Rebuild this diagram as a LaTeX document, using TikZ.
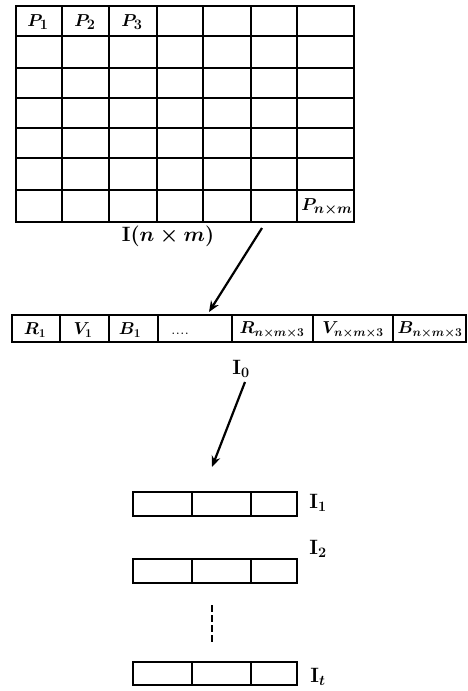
\documentclass[tikz,border=0pt]{standalone}
\usepackage{amsmath}
\usepackage{amssymb}
\usetikzlibrary{arrows.meta}

\begin{document}
\begin{tikzpicture}[
  x=1pt, y=-1pt,
  box/.style={draw,line width=1.1pt},
  cellmark/.style={inner sep=0pt,font=\fontsize{19}{22}\selectfont\boldmath},
  rowmark/.style={inner sep=0pt,font=\fontsize{18}{21}\selectfont\boldmath},
  imglabel/.style={inner sep=0pt,font=\fontsize{22}{26}\selectfont\bfseries\boldmath},
  flow/.style={line width=2.2pt,-{Stealth[length=11pt,width=9pt]}}
]
  \useasboundingbox (0,0) rectangle (467,691);
  % image grid I(n x m)
  \draw[box] (16,6) rectangle (354,222);
  \draw[box] (62,6) -- (62,222);
  \draw[box] (109,6) -- (109,222);
  \draw[box] (157,6) -- (157,222);
  \draw[box] (203,6) -- (203,222);
  \draw[box] (251,6) -- (251,222);
  \draw[box] (297,6) -- (297,222);
  \draw[box] (16,36) -- (354,36);
  \draw[box] (16,68) -- (354,68);
  \draw[box] (16,98) -- (354,98);
  \draw[box] (16,128) -- (354,128);
  \draw[box] (16,158) -- (354,158);
  \draw[box] (16,190) -- (354,190);
  \node[cellmark] (p1) at (38,22) {$P_1$};
  \node[cellmark] (p2) at (85,22) {$P_2$};
  \node[cellmark] (p3) at (132,22) {$P_3$};
  \node[cellmark] (pnm) at (327,207) {$P_{n\times m}$};
  \node[imglabel] (imat) at (168,236) {$\mathbf{I}(n\times m)$};
  % flattened vector I0
  \draw[box] (12,315) rectangle (466,342);
  \draw[box] (60,315) -- (60,342);
  \draw[box] (109,315) -- (109,342);
  \draw[box] (158,315) -- (158,342);
  \draw[box] (232,315) -- (232,342);
  \draw[box] (313,315) -- (313,342);
  \draw[box] (393,315) -- (393,342);
  \node[rowmark] (r1) at (35,330) {$R_1$};
  \node[rowmark] (v1) at (83,330) {$V_1$};
  \node[rowmark] (b1) at (130,330) {$B_1$};
  \node[rowmark,anchor=base] (rdots) at (180,334) {....};
  \node[rowmark] (rn) at (272,330) {$R_{n\times m\times 3}$};
  \node[rowmark] (vn) at (353,330) {$V_{n\times m\times 3}$};
  \node[rowmark] (bn) at (430,330) {$B_{n\times m\times 3}$};
  \node[imglabel] (izero) at (241,369) {$\mathbf{I}_0$};
  % blocks I1, I2, ..., It
  \draw[box] (133,492) rectangle (297,516);
  \draw[box] (192,492) -- (192,516);
  \draw[box] (251,492) -- (251,516);
  \draw[box] (133,559) rectangle (297,583);
  \draw[box] (192,559) -- (192,583);
  \draw[box] (251,559) -- (251,583);
  \draw[box] (133,662) rectangle (297,685);
  \draw[box] (192,662) -- (192,685);
  \draw[box] (251,662) -- (251,685);
  \node[imglabel] (ione) at (318,503) {$\mathbf{I}_1$};
  \node[imglabel] (itwo) at (318,549) {$\mathbf{I}_2$};
  \node[imglabel] (it) at (318,677) {$\mathbf{I}_t$};
  \coordinate (gapa) at (212,605);
  \coordinate (gapb) at (212,643);
  \draw[line width=2pt,dash pattern=on 7pt off 3pt] (gapa) -- (gapb);
  % arrows
  \coordinate (a1s) at (262,228);
  \coordinate (a1e) at (209,312);
  \coordinate (a2s) at (245,382);
  \coordinate (a2e) at (212,467);
  \draw[flow] (a1s) -- (a1e);
  \draw[flow] (a2s) -- (a2e);
\end{tikzpicture}
\end{document}
